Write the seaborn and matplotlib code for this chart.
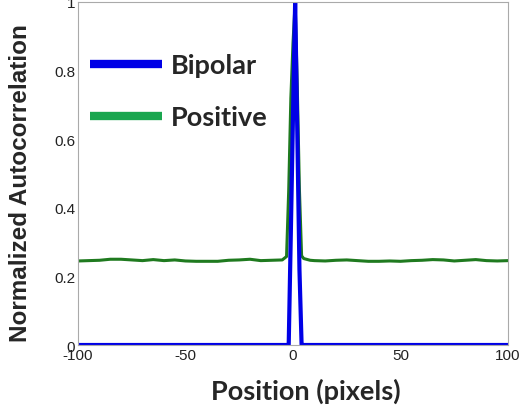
import matplotlib
matplotlib.use("Agg")
import matplotlib.pyplot as plt
import seaborn as sns
import pandas as pd
from matplotlib.lines import Line2D

# Data
bip_x = [-100, -3, -2, -1, 0, 1, 2, 3, 4, 5, 100]
bip_y = [0, 0, 0, 0.33, 0.67, 1.0, 0.62, 0.22, 0, 0, 0]

pos_x = [-100, -95, -90, -85, -80, -75, -70, -65, -60, -55, -50, -45, -40, -35,
         -30, -25, -20, -15, -10, -5, -3, -2, -1, 0, 1, 2, 3, 4, 5, 8,
         10, 15, 20, 25, 30, 35, 40, 45, 50, 55, 60, 65, 70, 75, 80, 85, 90, 95, 100]
pos_y = [0.245, 0.246, 0.247, 0.250, 0.250, 0.248, 0.246, 0.249, 0.246, 0.248, 0.245, 0.244, 0.244, 0.244,
         0.247, 0.248, 0.250, 0.246, 0.247, 0.248, 0.258, 0.45, 0.72, 0.88, 1.0, 0.75, 0.45, 0.26, 0.252, 0.247,
         0.246, 0.245, 0.247, 0.248, 0.246, 0.244, 0.244, 0.245, 0.244, 0.246, 0.247, 0.249, 0.248, 0.245, 0.247, 0.249, 0.246, 0.245, 0.246]

legend_labels = ["Bipolar", "Positive"]
xticks = [-100, -50, 0, 50, 100]
yticks = [0, 0.2, 0.4, 0.6, 0.8, 1]

sns.set_style("white")
plt.rcParams['font.family'] = ['Liberation Sans', 'DejaVu Sans']

fig = plt.figure(figsize=(5.22, 4.14), dpi=100)
ax = fig.add_axes([78/522, 1-346/414, 430/522, 343/414])

df_pos = pd.DataFrame({"x": pos_x, "y": pos_y})
df_bip = pd.DataFrame({"x": bip_x, "y": bip_y})
sns.lineplot(data=df_pos, x="x", y="y", ax=ax, color="#1f7a1f", lw=2.2, estimator=None, sort=False)
sns.lineplot(data=df_bip, x="x", y="y", ax=ax, color="#0000e6", lw=3.0, estimator=None, sort=False)

ax.set_xlim(-100, 100)
ax.set_ylim(0, 1)
ax.set_xticks(xticks)
ax.set_xticklabels(["-100", "-50", "0", "50", "100"])
ax.set_yticks(yticks)
ax.set_yticklabels(["0", "0.2", "0.4", "0.6", "0.8", "1"])
ax.tick_params(direction="in", length=3, labelsize=11, color="#999999", pad=2, labelcolor="#222222")
for lab in ax.get_xticklabels() + ax.get_yticklabels():
    lab.set_family(["Liberation Sans", "DejaVu Sans"])
for s in ax.spines.values():
    s.set_color("#aaaaaa")
    s.set_linewidth(0.8)

ax.set_xlabel("Position (pixels)", fontsize=19.5, fontweight="bold", family=["Lato", "DejaVu Sans"])
ax.xaxis.set_label_coords(0.53, -0.095)
ax.xaxis.label.set_va("top")
ax.set_ylabel("Normalized Autocorrelation", fontsize=17.5, fontweight="bold",
              family=["Liberation Sans", "DejaVu Sans"])
ax.yaxis.set_label_coords(-0.107, 0.475)

handles = [Line2D([], [], color="#0000e6", lw=6, solid_capstyle="butt"),
           Line2D([], [], color="#1aa64f", lw=6, solid_capstyle="butt")]
leg = ax.legend(handles, legend_labels, loc="upper left", bbox_to_anchor=(0.028, 0.85),
                frameon=False, handlelength=2.65, labelspacing=1.02, handletextpad=0.35,
                borderaxespad=0, borderpad=0,
                prop={"family": ["Lato", "DejaVu Sans"], "weight": "bold", "size": 19.5})

fig.savefig("out.png", dpi=100)
